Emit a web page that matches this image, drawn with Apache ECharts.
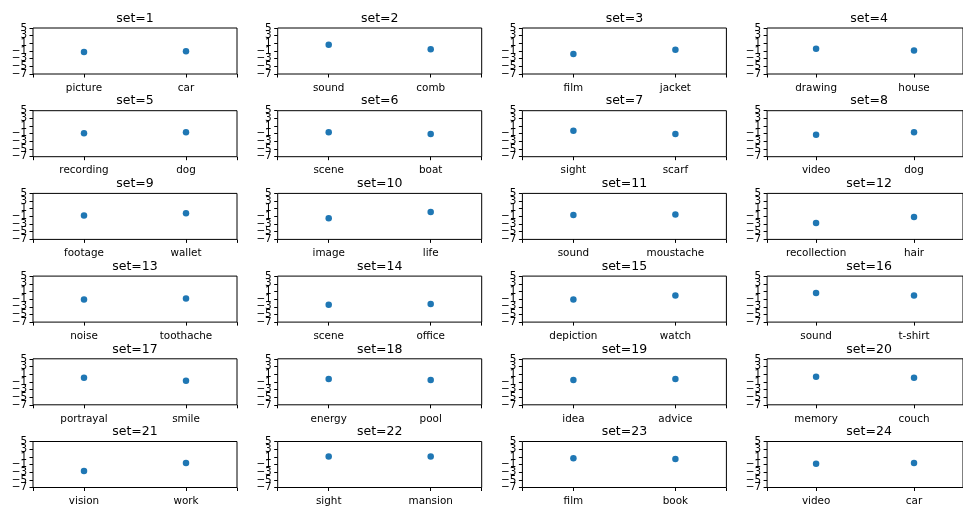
<!DOCTYPE html>
<html>
<head>
<meta charset="utf-8">
<title>set scores</title>
<script src="https://cdn.jsdelivr.net/npm/echarts@6/dist/echarts.min.js"></script>
<style>
  html, body { margin: 0; padding: 0; background: #fff; }
  #chart { width: 963px; height: 508px; }
</style>
</head>
<body>
<div id="chart"></div>
<script>
// Set numbers shown in each panel title
const setIds = [1, 2, 3, 4, 5, 6, 7, 8, 9, 10, 11, 12,
                13, 14, 15, 16, 17, 18, 19, 20, 21, 22, 23, 24];

// Left-hand and right-hand word of every set
const firstWords = ['picture', 'sound', 'film', 'drawing',
                    'recording', 'scene', 'sight', 'video',
                    'footage', 'image', 'sound', 'recollection',
                    'noise', 'scene', 'depiction', 'sound',
                    'portrayal', 'energy', 'idea', 'memory',
                    'vision', 'sight', 'film', 'video'];
const secondWords = ['car', 'comb', 'jacket', 'house',
                     'dog', 'boat', 'scarf', 'dog',
                     'wallet', 'life', 'moustache', 'hair',
                     'toothache', 'office', 'watch', 't-shirt',
                     'smile', 'pool', 'advice', 'couch',
                     'work', 'mansion', 'book', 'car'];

// Scores for each word
const firstScores = [-1.25, 0.65, -1.75, -0.4,
                     -0.9, -0.65, -0.25, -1.25,
                     -0.75, -1.5, -0.65, -2.7,
                     -1.1, -2.45, -1.1, 0.6,
                     0.05, -0.3, -0.55, 0.3,
                     -2.7, 1.1, 0.65, -0.8];
const secondScores = [-1.05, -0.55, -0.65, -0.85,
                      -0.65, -1.1, -1.1, -0.65,
                      -0.15, 0.15, -0.5, -1.15,
                      -0.85, -2.3, -0.05, -0.05,
                      -0.75, -0.5, -0.3, 0.05,
                      -0.6, 1.1, 0.45, -0.6];

// Y tick values shared by every panel, split into two interleaved groups
const yTicksA = [-7, -3, 1, 5];
const yTicksB = [-5, -1, 3];

const FONT = 'DejaVu Sans';
const COLS = 4;
const PANEL_W = 204, PANEL_H = 46;
const LEFT0 = 33, TOP0 = 28, COL_STEP = 244.7, ROW_STEP = 82.7;

const grids = [], xAxes = [], yAxes = [], series = [], titles = [];

const fmtY = v => (v < 0 ? '\u2212' + Math.abs(v) : String(v));

// The y tick labels sit closer together than their own height and overlap.
// Each panel gets two coincident y axes, each labelling every other tick,
// so no label is thinned out.
function makeYAxis(gridIndex, ticks) {
  return {
    type: 'value', gridIndex: gridIndex, min: -7, max: 5, position: 'left', offset: 0,
    splitLine: { show: false },
    axisLine: { show: false, onZero: false },
    axisTick: { show: true, length: 3.5, customValues: ticks,
                lineStyle: { color: '#000', width: 1 } },
    axisLabel: {
      show: true, customValues: ticks, margin: 6,
      color: '#000', fontSize: 10.4, fontFamily: FONT,
      hideOverlap: false, showMinLabel: true, showMaxLabel: true,
      formatter: fmtY
    }
  };
}

setIds.forEach((id, i) => {
  const col = i % COLS, row = Math.floor(i / COLS);
  const left = LEFT0 + col * COL_STEP;
  const top = TOP0 + row * ROW_STEP;
  const words = [firstWords[i], secondWords[i]];

  grids.push({
    left: left, top: top, width: PANEL_W, height: PANEL_H,
    show: true, borderColor: '#000', borderWidth: 1, backgroundColor: '#fff',
    containLabel: false
  });

  xAxes.push({
    type: 'value', gridIndex: i, min: -0.5, max: 1.5, position: 'bottom',
    splitLine: { show: false },
    axisLine: { show: false, onZero: false },
    axisTick: { show: true, length: 3.5, customValues: [-0.5, 0, 1, 1.5],
                lineStyle: { color: '#000', width: 1 } },
    axisLabel: {
      show: true, customValues: [0, 1], margin: 9,
      color: '#000', fontSize: 10.4, fontFamily: FONT,
      formatter: v => words[Math.round(v)]
    }
  });

  yAxes.push(makeYAxis(i, yTicksA));
  yAxes.push(makeYAxis(i, yTicksB));

  series.push({
    type: 'scatter', xAxisIndex: i, yAxisIndex: 2 * i,
    symbol: 'circle', symbolSize: 6.5,
    itemStyle: { color: '#1f77b4', opacity: 1 },
    emphasis: { disabled: true },
    data: [[0, firstScores[i]], [1, secondScores[i]]]
  });

  titles.push({
    text: 'set=' + id,
    left: left + PANEL_W / 2, top: top - 16,
    textAlign: 'center', padding: 0,
    textStyle: { fontSize: 12.5, fontWeight: 'normal', color: '#000', fontFamily: FONT }
  });
});

const chart = echarts.init(document.getElementById('chart'), null, { renderer: 'canvas' });
chart.setOption({
  animation: false,
  backgroundColor: '#fff',
  title: titles,
  grid: grids,
  xAxis: xAxes,
  yAxis: yAxes,
  series: series
});
</script>
</body>
</html>
